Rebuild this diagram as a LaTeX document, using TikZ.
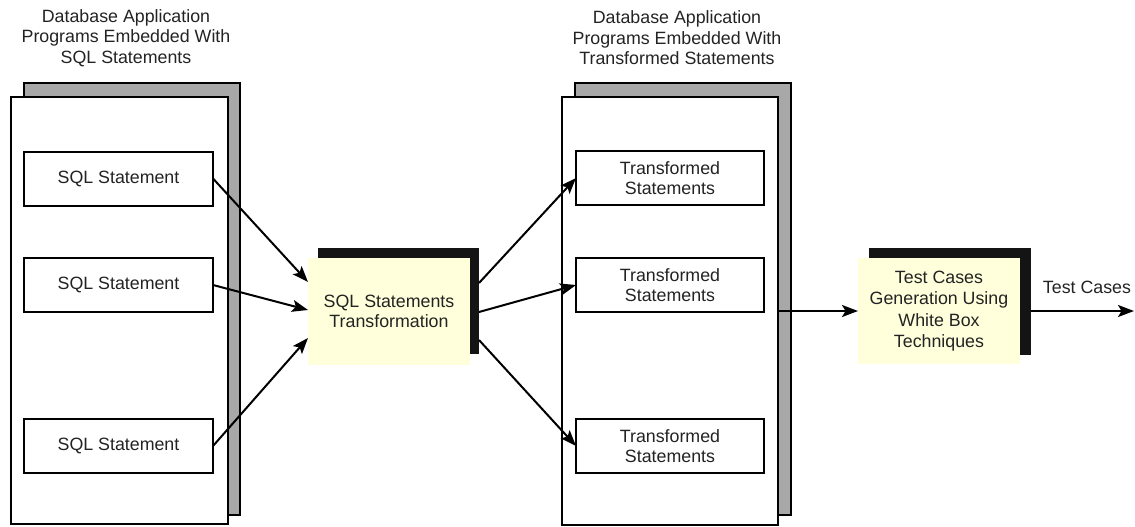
\documentclass[tikz,border=0pt]{standalone}
\usepackage{fontspec}
\setmainfont{Liberation Sans}
\usetikzlibrary{arrows.meta,calc}
\definecolor{paleyellow}{RGB}{255,255,220}
\definecolor{backgray}{RGB}{168,168,168}
\definecolor{txt}{RGB}{35,35,35}
\begin{document}
\begin{tikzpicture}[x=1pt,y=-1pt,
  every node/.style={font=\fontsize{17.8}{20.5}\selectfont, text=txt, inner sep=0pt, outer sep=0pt},
  panelback/.style={draw=black, line width=2.2pt, fill=backgray},
  panelfront/.style={draw=black, line width=2.2pt, fill=white},
  stmt/.style={draw=black, line width=2pt, fill=white, minimum width=189pt, minimum height=54pt, align=center},
  shadowbox/.style={fill=black!92, minimum width=161pt, minimum height=106pt},
  procbox/.style={fill=paleyellow, minimum width=162pt, minimum height=107pt, align=center},
  arr/.style={line width=2pt, -{Stealth[length=16pt,width=12pt,inset=3.5pt]}},
  title/.style={align=center}]
\useasboundingbox (0,0) rectangle (1135,527);

% titles
\node[title] (ltitle) at (126,38) {Database Application\\Programs Embedded With\\SQL Statements};
\node[title] (rtitle) at (677,38) {Database Application\\Programs Embedded With\\Transformed Statements};

% left group
\node[panelback, minimum width=216pt, minimum height=432pt] (lback) at (132,299) {};
\node[panelfront, minimum width=217pt, minimum height=427pt] (lfront) at (119.5,310.5) {};
\node[stmt] (s1) at (118.5,178.5) {SQL Statement};
\node[stmt] (s2) at (118.5,285) {SQL Statement};
\node[stmt] (s3) at (118.5,446) {SQL Statement};

% right group
\node[panelback, minimum width=216pt, minimum height=432pt] (rback) at (683,299) {};
\node[panelfront, minimum width=216pt, minimum height=428pt] (rfront) at (670,311) {};
\node[stmt, minimum width=188pt] (t1) at (670,178) {Transformed\\Statements};
\node[stmt, minimum width=188pt] (t2) at (670,285) {Transformed\\Statements};
\node[stmt, minimum width=188pt] (t3) at (670,446) {Transformed\\Statements};

% transformation box
\node[shadowbox] (transsh) at (398.5,301) {};
\node[procbox] (trans) at (389,311.5) {SQL Statements\\Transformation};

% test case box
\node[shadowbox, minimum width=162pt, minimum height=107pt] (testsh) at (950,301.5) {};
\node[procbox, minimum height=106pt, font=\fontsize{17.8}{21.5}\selectfont] (test) at (939,311) {Test Cases\\Generation Using\\White Box\\Techniques};

% arrows in
\draw[arr] (s1.east) -- ($(trans.north west)+(0pt,-24pt)$);
\draw[arr] (s2.east) -- ($(trans.north west)+(0pt,-52pt)$);
\draw[arr] (s3.east) -- ($(trans.north west)+(0pt,-80pt)$);

% arrows out
\draw[arr] ($(transsh.north east)+(0pt,-35pt)$) -- (t1.west);
\draw[arr] ($(transsh.north east)+(0pt,-64pt)$) -- (t2.west);
\draw[arr] ($(transsh.north east)+(0pt,-92pt)$) -- (t3.west);

% to test box and out
\draw[arr] (rfront.east) -- (test.west);
\coordinate (outend) at (1134,311);
\draw[arr] (testsh.east |- test.west) -- (outend);
\node (tclabel) at (1087,287) {Test Cases};
\end{tikzpicture}
\end{document}
